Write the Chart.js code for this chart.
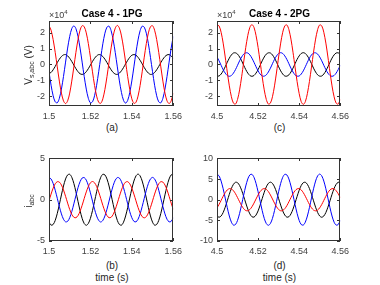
<!DOCTYPE html>
<html><head><meta charset="utf-8">
<script src="https://cdn.jsdelivr.net/npm/chart.js@4.4.1/dist/chart.umd.min.js"></script>
<style>
html,body{margin:0;padding:0;background:#fff;}
#wrap{position:relative;width:380px;height:285px;overflow:hidden;font-family:"Liberation Sans",Arial,sans-serif;color:#262626;}
canvas{position:absolute;}
.t{position:absolute;transform:translate(-50%,-50%);white-space:nowrap;font-size:10px;line-height:1;}
.title{font-weight:bold;color:#000;}
.yl{position:absolute;width:80px;height:12px;line-height:12px;text-align:center;font-size:10px;white-space:nowrap;transform:rotate(-90deg);transform-origin:50% 50%;}
.exp{position:absolute;font-size:9px;line-height:1;white-space:nowrap;color:#404040;}
sub{font-size:7px;vertical-align:-2px;line-height:0;}
sup{font-size:6px;vertical-align:4px;line-height:0;}
</style></head>
<body><div id="wrap">
<canvas id="ca" width="168" height="110" style="left:19px;top:12px"></canvas>
<canvas id="cc" width="167" height="110" style="left:187px;top:12px"></canvas>
<canvas id="cb" width="168" height="108" style="left:19px;top:149px"></canvas>
<canvas id="cd" width="167" height="108" style="left:187px;top:149px"></canvas>
<div class="t title" style="left:112px;top:13.5px">Case 4 - 1PG</div>
<div class="t title" style="left:279.5px;top:13.5px">Case 4 - 2PG</div>
<div class="exp" style="left:49px;top:11px">×10<sup>4</sup></div>
<div class="exp" style="left:217px;top:11px">×10<sup>4</sup></div>
<div class="yl" style="left:-11.5px;top:59px">V<sub>s,abc</sub> (V)</div>
<div class="yl" style="left:-11px;top:195px">i<sub>abc</sub></div>
<div class="t" style="left:112px;top:127.5px">(a)</div>
<div class="t" style="left:279.5px;top:127.5px">(c)</div>
<div class="t" style="left:112px;top:266px">(b)</div>
<div class="t" style="left:279.5px;top:266px">(d)</div>
<div class="t" style="left:112px;top:277.5px">time (s)</div>
<div class="t" style="left:279.5px;top:277.5px">time (s)</div>
</div>
<script>
// time axes (s)
const time1PG = [1.500,1.501,1.502,1.503,1.504,1.505,1.506,1.507,1.508,1.509,1.510,1.511,1.512,1.513,1.514,1.515,1.516,1.517,1.518,1.519,1.520,1.521,1.522,1.523,1.524,1.525,1.526,1.527,1.528,1.529,1.530,1.531,1.532,1.533,1.534,1.535,1.536,1.537,1.538,1.539,1.540,1.541,1.542,1.543,1.544,1.545,1.546,1.547,1.548,1.549,1.550,1.551,1.552,1.553,1.554,1.555,1.556,1.557,1.558,1.559,1.560];
const time2PG = [4.500,4.501,4.502,4.503,4.504,4.505,4.506,4.507,4.508,4.509,4.510,4.511,4.512,4.513,4.514,4.515,4.516,4.517,4.518,4.519,4.520,4.521,4.522,4.523,4.524,4.525,4.526,4.527,4.528,4.529,4.530,4.531,4.532,4.533,4.534,4.535,4.536,4.537,4.538,4.539,4.540,4.541,4.542,4.543,4.544,4.545,4.546,4.547,4.548,4.549,4.550,4.551,4.552,4.553,4.554,4.555,4.556,4.557,4.558,4.559,4.560];

// stator voltages (x 10^4 V)
const vRed1PG = [2.43,2.15,1.56,0.76,-0.15,-1.04,-1.79,-2.28,-2.45,-2.28,-1.79,-1.04,-0.15,0.76,1.56,2.15,2.43,2.37,1.98,1.31,0.46,-0.46,-1.31,-1.98,-2.37,
-2.43,-2.15,-1.56,-0.76,0.15,1.04,1.79,2.28,2.45,2.28,1.79,1.04,0.15,-0.76,-1.56,-2.15,-2.43,-2.37,-1.98,-1.31,-0.46,0.46,1.31,1.98,2.37,
2.43,2.15,1.56,0.76,-0.15,-1.04,-1.79,-2.28,-2.45,-2.28,-1.79];
const vBlue1PG = [-0.45,-1.30,-1.96,-2.34,-2.40,-2.12,-1.54,-0.75,0.15,1.03,1.76,2.25,2.42,2.25,1.76,1.03,0.15,-0.75,-1.54,-2.12,-2.40,-2.34,-1.96,-1.30,-0.45,
0.45,1.30,1.96,2.34,2.40,2.12,1.54,0.75,-0.15,-1.03,-1.76,-2.25,-2.42,-2.25,-1.76,-1.03,-0.15,0.75,1.54,2.12,2.40,2.34,1.96,1.30,0.45,
-0.45,-1.30,-1.96,-2.34,-2.40,-2.12,-1.54,-0.75,0.15,1.03,1.76];
const vBlack1PG = [-0.55,-0.50,-0.33,-0.12,0.12,0.33,0.50,0.60,0.62,0.54,0.39,0.19,-0.04,-0.26,-0.45,-0.58,-0.62,-0.58,-0.45,-0.26,-0.04,0.19,0.39,0.54,0.62,
0.60,0.50,0.33,0.12,-0.12,-0.33,-0.50,-0.60,-0.62,-0.54,-0.39,-0.19,0.04,0.26,0.45,0.58,0.62,0.58,0.45,0.26,0.04,-0.19,-0.39,-0.54,-0.62,
-0.60,-0.50,-0.33,-0.12,0.12,0.33,0.50,0.60,0.62,0.54,0.39];

const vRed2PG = [2.48,2.42,2.02,1.34,0.47,-0.47,-1.34,-2.02,-2.42,-2.48,-2.19,-1.59,-0.77,0.16,1.07,1.82,2.33,2.50,2.33,1.82,1.07,0.16,-0.77,-1.59,-2.19,
-2.48,-2.42,-2.02,-1.34,-0.47,0.47,1.34,2.02,2.42,2.48,2.19,1.59,0.77,-0.16,-1.07,-1.82,-2.33,-2.50,-2.33,-1.82,-1.07,-0.16,0.77,1.59,2.19,
2.48,2.42,2.02,1.34,0.47,-0.47,-1.34,-2.02,-2.42,-2.48,-2.19];
const vBlue2PG = [0.47,0.23,-0.05,-0.32,-0.54,-0.69,-0.74,-0.69,-0.54,-0.32,-0.05,0.23,0.47,0.65,0.73,0.72,0.60,0.40,0.14,-0.14,-0.40,-0.60,-0.72,-0.73,-0.65,
-0.47,-0.23,0.05,0.32,0.54,0.69,0.74,0.69,0.54,0.32,0.05,-0.23,-0.47,-0.65,-0.73,-0.72,-0.60,-0.40,-0.14,0.14,0.40,0.60,0.72,0.73,0.65,
0.47,0.23,-0.05,-0.32,-0.54,-0.69,-0.74,-0.69,-0.54,-0.32,-0.05];
const vBlack2PG = [-0.73,-0.72,-0.60,-0.40,-0.14,0.14,0.40,0.60,0.72,0.73,0.65,0.47,0.23,-0.05,-0.32,-0.54,-0.69,-0.74,-0.69,-0.54,-0.32,-0.05,0.23,0.47,0.65,
0.73,0.72,0.60,0.40,0.14,-0.14,-0.40,-0.60,-0.72,-0.73,-0.65,-0.47,-0.23,0.05,0.32,0.54,0.69,0.74,0.69,0.54,0.32,0.05,-0.23,-0.47,-0.65,
-0.73,-0.72,-0.60,-0.40,-0.14,0.14,0.40,0.60,0.72,0.73,0.65];

// currents
const iRed1PG = [-0.14,0.68,1.40,1.93,2.18,2.13,1.78,1.18,0.41,-0.41,-1.18,-1.78,-2.13,-2.18,-1.93,-1.40,-0.68,0.14,0.94,1.60,2.05,2.20,2.05,1.60,0.94,
0.14,-0.68,-1.40,-1.93,-2.18,-2.13,-1.78,-1.18,-0.41,0.41,1.18,1.78,2.13,2.18,1.93,1.40,0.68,-0.14,-0.94,-1.60,-2.05,-2.20,-2.05,-1.60,-0.94,
-0.14,0.68,1.40,1.93,2.18,2.13,1.78,1.18,0.41,-0.41,-1.18];
const iBlue1PG = [2.70,2.51,1.97,1.15,0.17,-0.83,-1.72,-2.37,-2.68,-2.62,-2.18,-1.45,-0.50,0.50,1.45,2.18,2.62,2.68,2.37,1.72,0.83,-0.17,-1.15,-1.97,-2.51,
-2.70,-2.51,-1.97,-1.15,-0.17,0.83,1.72,2.37,2.68,2.62,2.18,1.45,0.50,-0.50,-1.45,-2.18,-2.62,-2.68,-2.37,-1.72,-0.83,0.17,1.15,1.97,2.51,
2.70,2.51,1.97,1.15,0.17,-0.83,-1.72,-2.37,-2.68,-2.62,-2.18];
const iBlack1PG = [-2.72,-3.08,-3.00,-2.51,-1.66,-0.58,0.58,1.66,2.51,3.00,3.08,2.72,1.97,0.96,-0.20,-1.32,-2.26,-2.88,-3.10,-2.88,-2.26,-1.32,-0.20,0.96,1.97,
2.72,3.08,3.00,2.51,1.66,0.58,-0.58,-1.66,-2.51,-3.00,-3.08,-2.72,-1.97,-0.96,0.20,1.32,2.26,2.88,3.10,2.88,2.26,1.32,0.20,-0.96,-1.97,
-2.72,-3.08,-3.00,-2.51,-1.66,-0.58,0.58,1.66,2.51,3.00,3.08];

const iRed2PG = [-1.97,-1.15,-0.17,0.83,1.72,2.37,2.68,2.62,2.18,1.45,0.50,-0.50,-1.45,-2.18,-2.62,-2.68,-2.37,-1.72,-0.83,0.17,1.15,1.97,2.51,2.70,2.51,
1.97,1.15,0.17,-0.83,-1.72,-2.37,-2.68,-2.62,-2.18,-1.45,-0.50,0.50,1.45,2.18,2.62,2.68,2.37,1.72,0.83,-0.17,-1.15,-1.97,-2.51,-2.70,-2.51,
-1.97,-1.15,-0.17,0.83,1.72,2.37,2.68,2.62,2.18,1.45,0.50];
const iBlue2PG = [6.20,5.77,4.52,2.64,0.39,-1.92,-3.95,-5.43,-6.15,-6.01,-5.02,-3.32,-1.16,1.16,3.32,5.02,6.01,6.15,5.43,3.95,1.92,-0.39,-2.64,-4.52,-5.77,
-6.20,-5.77,-4.52,-2.64,-0.39,1.92,3.95,5.43,6.15,6.01,5.02,3.32,1.16,-1.16,-3.32,-5.02,-6.01,-6.15,-5.43,-3.95,-1.92,0.39,2.64,4.52,5.77,
6.20,5.77,4.52,2.64,0.39,-1.92,-3.95,-5.43,-6.15,-6.01,-5.02];
const iBlack2PG = [-3.95,-4.25,-3.95,-3.10,-1.81,-0.27,1.31,2.71,3.72,4.22,4.12,3.44,2.28,0.79,-0.79,-2.28,-3.44,-4.12,-4.22,-3.72,-2.71,-1.31,0.27,1.81,3.10,
3.95,4.25,3.95,3.10,1.81,0.27,-1.31,-2.71,-3.72,-4.22,-4.12,-3.44,-2.28,-0.79,0.79,2.28,3.44,4.12,4.22,3.72,2.71,1.31,-0.27,-1.81,-3.10,
-3.95,-4.25,-3.95,-3.10,-1.81,-0.27,1.31,2.71,3.72,4.22,4.12];

// tick labels
const xTicks1PG = [1.5, 1.52, 1.54, 1.56];
const xTicks2PG = [4.5, 4.52, 4.54, 4.56];
const yTicksV = [-2, -1, 0, 1, 2];
const yTicksI1 = [-5, 0, 5];
const yTicksI2 = [-10, -5, 0, 5, 10];

const boxPlugin = {
  id: 'box',
  afterDatasetsDraw(chart) {
    const {ctx, chartArea: a, scales: {x, y}} = chart;
    const L = Math.round(a.left), T = Math.round(a.top), R = Math.round(a.right), B = Math.round(a.bottom);
    ctx.save();
    ctx.strokeStyle = '#333';
    ctx.lineWidth = 1;
    ctx.strokeRect(L + 0.5, T + 0.5, R - L - 1, B - T - 1);
    ctx.beginPath();
    x.ticks.forEach(t => {
      const p = Math.round(x.getPixelForValue(t.value)) + 0.5;
      ctx.moveTo(p, B); ctx.lineTo(p, B - 3);
      ctx.moveTo(p, T); ctx.lineTo(p, T + 3);
    });
    y.ticks.forEach(t => {
      const p = Math.round(y.getPixelForValue(t.value)) + 0.5;
      ctx.moveTo(L, p); ctx.lineTo(L + 3, p);
      ctx.moveTo(R, p); ctx.lineTo(R - 3, p);
    });
    ctx.stroke();
    ctx.restore();
  }
};

function makeChart(id, time, series, xTicks, yTicks, yMin, yMax) {
  const tickFont = {family: '"Liberation Sans", Arial, sans-serif', size: 9};
  new Chart(document.getElementById(id), {
    type: 'line',
    data: {
      datasets: series.map(s => ({
        data: time.map((t, i) => ({x: t, y: s.values[i]})),
        borderColor: s.color, borderWidth: 1, pointRadius: 0, tension: 0.3, fill: false
      }))
    },
    options: {
      responsive: false, animation: false, devicePixelRatio: 1,
      layout: {padding: {top: 8, right: 12, left: 0, bottom: 0}},
      plugins: {legend: {display: false}, tooltip: {enabled: false}},
      scales: {
        x: {
          type: 'linear', min: xTicks[0], max: xTicks[xTicks.length - 1],
          grid: {display: false, drawTicks: false}, border: {display: false},
          afterBuildTicks: s => { s.ticks = xTicks.map(v => ({value: v})); },
          afterFit: s => { s.height = 16; },
          ticks: {padding: 5, color: '#404040', font: tickFont, maxRotation: 0, autoSkip: false, callback: v => String(v)}
        },
        y: {
          type: 'linear', min: yMin, max: yMax,
          grid: {display: false, drawTicks: false}, border: {display: false},
          afterBuildTicks: s => { s.ticks = yTicks.map(v => ({value: v})); },
          afterFit: s => { s.width = 30; },
          ticks: {padding: 4, color: '#404040', font: tickFont, autoSkip: false, callback: v => String(v)}
        }
      }
    },
    plugins: [boxPlugin]
  });
}

makeChart('ca', time1PG, [
  {values: vRed1PG, color: '#ff0000'},
  {values: vBlue1PG, color: '#0000ff'},
  {values: vBlack1PG, color: '#000000'}
], xTicks1PG, yTicksV, -2.6, 2.7);
makeChart('cc', time2PG, [
  {values: vRed2PG, color: '#ff0000'},
  {values: vBlue2PG, color: '#0000ff'},
  {values: vBlack2PG, color: '#000000'}
], xTicks2PG, yTicksV, -2.6, 2.7);
makeChart('cb', time1PG, [
  {values: iRed1PG, color: '#ff0000'},
  {values: iBlue1PG, color: '#0000ff'},
  {values: iBlack1PG, color: '#000000'}
], xTicks1PG, yTicksI1, -5, 5);
makeChart('cd', time2PG, [
  {values: iRed2PG, color: '#ff0000'},
  {values: iBlue2PG, color: '#0000ff'},
  {values: iBlack2PG, color: '#000000'}
], xTicks2PG, yTicksI2, -10, 10);
</script>
</body></html>
